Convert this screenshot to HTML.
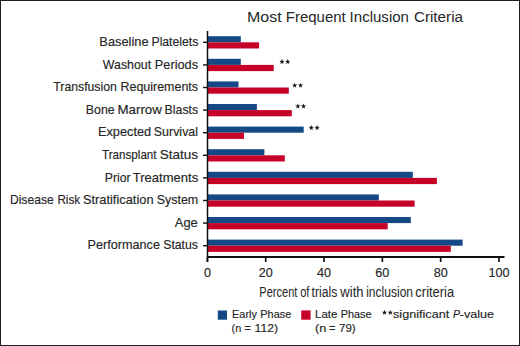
<!DOCTYPE html>
<html><head><meta charset="utf-8"><style>
html,body{margin:0;padding:0;background:#fff;}
body{width:520px;height:346px;overflow:hidden;}
svg{display:block;}
text{font-family:"Liberation Sans",sans-serif;fill:#262626;stroke:#262626;stroke-width:0.15px;}
.lab{font-size:12.2px;}
.tick{font-size:12.6px;}
.title{font-size:14px;stroke-width:0;}
.leg{font-size:11px;}
</style></head><body>
<svg width="520" height="346" viewBox="0 0 520 346">
<rect x="0.5" y="0.5" width="519" height="345" fill="#fff" stroke="#1e1e1e" stroke-width="1"/>
<text x="247.09" y="22.40" textLength="34.52" lengthAdjust="spacingAndGlyphs" class="title">Most</text>
<text x="285.77" y="22.40" textLength="60.04" lengthAdjust="spacingAndGlyphs" class="title">Frequent</text>
<text x="349.61" y="22.40" textLength="59.36" lengthAdjust="spacingAndGlyphs" class="title">Inclusion</text>
<text x="413.93" y="22.40" textLength="49.07" lengthAdjust="spacingAndGlyphs" class="title">Criteria</text>
<rect x="207.5" y="36.20" width="33.30" height="6.1" fill="#144986"/>
<rect x="207.5" y="42.30" width="51.60" height="6.2" fill="#c70228"/>
<text x="99.35" y="46.00" textLength="49.22" lengthAdjust="spacingAndGlyphs" class="lab">Baseline</text>
<text x="151.50" y="46.00" textLength="46.74" lengthAdjust="spacingAndGlyphs" class="lab">Platelets</text>
<line x1="203" x2="207" y1="42.30" y2="42.30" stroke="#111" stroke-width="1.4"/>
<rect x="207.5" y="58.80" width="33.30" height="6.1" fill="#144986"/>
<rect x="207.5" y="64.90" width="66.20" height="6.2" fill="#c70228"/>
<text x="102.85" y="68.60" textLength="48.24" lengthAdjust="spacingAndGlyphs" class="lab">Washout</text>
<text x="154.85" y="68.60" textLength="43.21" lengthAdjust="spacingAndGlyphs" class="lab">Periods</text>
<line x1="203" x2="207" y1="64.90" y2="64.90" stroke="#111" stroke-width="1.4"/>
<rect x="207.5" y="81.40" width="31.00" height="6.1" fill="#144986"/>
<rect x="207.5" y="87.50" width="81.30" height="6.2" fill="#c70228"/>
<text x="53.33" y="91.20" textLength="63.46" lengthAdjust="spacingAndGlyphs" class="lab">Transfusion</text>
<text x="120.48" y="91.20" textLength="77.57" lengthAdjust="spacingAndGlyphs" class="lab">Requirements</text>
<line x1="203" x2="207" y1="87.50" y2="87.50" stroke="#111" stroke-width="1.4"/>
<rect x="207.5" y="104.00" width="49.40" height="6.1" fill="#144986"/>
<rect x="207.5" y="110.10" width="84.30" height="6.2" fill="#c70228"/>
<text x="85.89" y="113.80" textLength="28.86" lengthAdjust="spacingAndGlyphs" class="lab">Bone</text>
<text x="117.51" y="113.80" textLength="44.36" lengthAdjust="spacingAndGlyphs" class="lab">Marrow</text>
<text x="164.59" y="113.80" textLength="33.56" lengthAdjust="spacingAndGlyphs" class="lab">Blasts</text>
<line x1="203" x2="207" y1="110.10" y2="110.10" stroke="#111" stroke-width="1.4"/>
<rect x="207.5" y="126.60" width="96.20" height="6.1" fill="#144986"/>
<rect x="207.5" y="132.70" width="36.50" height="6.2" fill="#c70228"/>
<text x="97.95" y="136.40" textLength="53.27" lengthAdjust="spacingAndGlyphs" class="lab">Expected</text>
<text x="153.84" y="136.40" textLength="44.20" lengthAdjust="spacingAndGlyphs" class="lab">Survival</text>
<line x1="203" x2="207" y1="132.70" y2="132.70" stroke="#111" stroke-width="1.4"/>
<rect x="207.5" y="149.20" width="56.90" height="6.1" fill="#144986"/>
<rect x="207.5" y="155.30" width="77.30" height="6.2" fill="#c70228"/>
<text x="102.04" y="159.00" textLength="54.54" lengthAdjust="spacingAndGlyphs" class="lab">Transplant</text>
<text x="159.79" y="159.00" textLength="38.30" lengthAdjust="spacingAndGlyphs" class="lab">Status</text>
<line x1="203" x2="207" y1="155.30" y2="155.30" stroke="#111" stroke-width="1.4"/>
<rect x="207.5" y="171.80" width="205.30" height="6.1" fill="#144986"/>
<rect x="207.5" y="177.90" width="229.40" height="6.2" fill="#c70228"/>
<text x="104.80" y="181.60" textLength="25.70" lengthAdjust="spacingAndGlyphs" class="lab">Prior</text>
<text x="132.81" y="181.60" textLength="65.36" lengthAdjust="spacingAndGlyphs" class="lab">Treatments</text>
<line x1="203" x2="207" y1="177.90" y2="177.90" stroke="#111" stroke-width="1.4"/>
<rect x="207.5" y="194.40" width="171.30" height="6.1" fill="#144986"/>
<rect x="207.5" y="200.50" width="207.10" height="6.2" fill="#c70228"/>
<text x="9.90" y="204.20" textLength="43.83" lengthAdjust="spacingAndGlyphs" class="lab">Disease</text>
<text x="57.44" y="204.20" textLength="22.64" lengthAdjust="spacingAndGlyphs" class="lab">Risk</text>
<text x="82.92" y="204.20" textLength="70.62" lengthAdjust="spacingAndGlyphs" class="lab">Stratification</text>
<text x="156.73" y="204.20" textLength="41.49" lengthAdjust="spacingAndGlyphs" class="lab">System</text>
<line x1="203" x2="207" y1="200.50" y2="200.50" stroke="#111" stroke-width="1.4"/>
<rect x="207.5" y="217.00" width="203.30" height="6.1" fill="#144986"/>
<rect x="207.5" y="223.10" width="180.20" height="6.2" fill="#c70228"/>
<text x="174.87" y="226.80" textLength="22.90" lengthAdjust="spacingAndGlyphs" class="lab">Age</text>
<line x1="203" x2="207" y1="223.10" y2="223.10" stroke="#111" stroke-width="1.4"/>
<rect x="207.5" y="239.60" width="255.10" height="6.1" fill="#144986"/>
<rect x="207.5" y="245.70" width="243.30" height="6.2" fill="#c70228"/>
<text x="87.56" y="249.40" textLength="72.40" lengthAdjust="spacingAndGlyphs" class="lab">Performance</text>
<text x="163.24" y="249.40" textLength="34.70" lengthAdjust="spacingAndGlyphs" class="lab">Status</text>
<line x1="203" x2="207" y1="245.70" y2="245.70" stroke="#111" stroke-width="1.4"/>
<polygon points="282.00,58.97 282.68,60.84 284.66,60.90 283.09,62.12 283.65,64.03 282.00,62.92 280.35,64.03 280.91,62.12 279.34,60.90 281.32,60.84" fill="#1a1a1a"/>
<polygon points="287.70,58.97 288.38,60.84 290.36,60.90 288.79,62.12 289.35,64.03 287.70,62.92 286.05,64.03 286.61,62.12 285.04,60.90 287.02,60.84" fill="#1a1a1a"/>
<polygon points="294.70,82.67 295.38,84.54 297.36,84.60 295.79,85.82 296.35,87.73 294.70,86.62 293.05,87.73 293.61,85.82 292.04,84.60 294.02,84.54" fill="#1a1a1a"/>
<polygon points="300.50,82.67 301.18,84.54 303.16,84.60 301.59,85.82 302.15,87.73 300.50,86.62 298.85,87.73 299.41,85.82 297.84,84.60 299.82,84.54" fill="#1a1a1a"/>
<polygon points="297.90,103.47 298.58,105.34 300.56,105.40 298.99,106.62 299.55,108.53 297.90,107.42 296.25,108.53 296.81,106.62 295.24,105.40 297.22,105.34" fill="#1a1a1a"/>
<polygon points="303.50,103.47 304.18,105.34 306.16,105.40 304.59,106.62 305.15,108.53 303.50,107.42 301.85,108.53 302.41,106.62 300.84,105.40 302.82,105.34" fill="#1a1a1a"/>
<polygon points="311.30,124.97 311.98,126.84 313.96,126.90 312.39,128.12 312.95,130.03 311.30,128.92 309.65,130.03 310.21,128.12 308.64,126.90 310.62,126.84" fill="#1a1a1a"/>
<polygon points="317.10,124.97 317.78,126.84 319.76,126.90 318.19,128.12 318.75,130.03 317.10,128.92 315.45,130.03 316.01,128.12 314.44,126.90 316.42,126.84" fill="#1a1a1a"/>
<polygon points="384.50,309.77 385.18,311.64 387.16,311.70 385.59,312.92 386.15,314.83 384.50,313.72 382.85,314.83 383.41,312.92 381.84,311.70 383.82,311.64" fill="#1a1a1a"/>
<polygon points="390.30,309.77 390.98,311.64 392.96,311.70 391.39,312.92 391.95,314.83 390.30,313.72 388.65,314.83 389.21,312.92 387.64,311.70 389.62,311.64" fill="#1a1a1a"/>
<line x1="207.5" x2="207.5" y1="31" y2="262" stroke="#111" stroke-width="1.5"/>
<line x1="207" x2="504.5" y1="257" y2="257" stroke="#111" stroke-width="2"/>
<line x1="207.40" x2="207.40" y1="257" y2="262" stroke="#111" stroke-width="1.7"/>
<text x="207.40" y="277" text-anchor="middle" class="tick">0</text>
<line x1="265.72" x2="265.72" y1="257" y2="262" stroke="#111" stroke-width="1.7"/>
<text x="265.72" y="277" text-anchor="middle" class="tick">20</text>
<line x1="324.04" x2="324.04" y1="257" y2="262" stroke="#111" stroke-width="1.7"/>
<text x="324.04" y="277" text-anchor="middle" class="tick">40</text>
<line x1="382.36" x2="382.36" y1="257" y2="262" stroke="#111" stroke-width="1.7"/>
<text x="382.36" y="277" text-anchor="middle" class="tick">60</text>
<line x1="440.68" x2="440.68" y1="257" y2="262" stroke="#111" stroke-width="1.7"/>
<text x="440.68" y="277" text-anchor="middle" class="tick">80</text>
<line x1="499.00" x2="499.00" y1="257" y2="262" stroke="#111" stroke-width="1.7"/>
<text x="499.00" y="277" text-anchor="middle" class="tick">100</text>
<text x="259.29" y="297.20" textLength="38.09" lengthAdjust="spacingAndGlyphs" class="title">Percent</text>
<text x="300.13" y="297.20" textLength="9.35" lengthAdjust="spacingAndGlyphs" class="title">of</text>
<text x="311.62" y="297.20" textLength="25.62" lengthAdjust="spacingAndGlyphs" class="title">trials</text>
<text x="340.32" y="297.20" textLength="23.23" lengthAdjust="spacingAndGlyphs" class="title">with</text>
<text x="366.19" y="297.20" textLength="46.89" lengthAdjust="spacingAndGlyphs" class="title">inclusion</text>
<text x="415.35" y="297.20" textLength="38.85" lengthAdjust="spacingAndGlyphs" class="title">criteria</text>
<rect x="217.8" y="310.5" width="9.2" height="9.2" fill="#144986"/>
<rect x="301.2" y="310.4" width="9.4" height="9.3" fill="#c70228"/>
<text x="232.11" y="318.20" textLength="24.81" lengthAdjust="spacingAndGlyphs" class="leg">Early</text>
<text x="260.30" y="318.20" textLength="30.98" lengthAdjust="spacingAndGlyphs" class="leg">Phase</text>
<text x="315.06" y="318.20" textLength="22.35" lengthAdjust="spacingAndGlyphs" class="leg">Late</text>
<text x="340.71" y="318.20" textLength="30.88" lengthAdjust="spacingAndGlyphs" class="leg">Phase</text>
<text x="231.52" y="332.10" textLength="9.68" lengthAdjust="spacingAndGlyphs" class="leg">(n</text>
<text x="244.47" y="332.10" textLength="6.37" lengthAdjust="spacingAndGlyphs" class="leg">=</text>
<text x="254.61" y="332.10" textLength="23.31" lengthAdjust="spacingAndGlyphs" class="leg">112)</text>
<text x="315.01" y="332.10" textLength="11.32" lengthAdjust="spacingAndGlyphs" class="leg">(n</text>
<text x="328.96" y="332.10" textLength="6.49" lengthAdjust="spacingAndGlyphs" class="leg">=</text>
<text x="339.01" y="332.10" textLength="16.71" lengthAdjust="spacingAndGlyphs" class="leg">79)</text>
<text x="393.05" y="318.40" textLength="56.14" lengthAdjust="spacingAndGlyphs" class="leg">significant</text>
<text x="459.84" y="318.40" textLength="34.22" lengthAdjust="spacingAndGlyphs" class="leg">-value</text>
<text x="453.08" y="318.40" textLength="6.99" lengthAdjust="spacingAndGlyphs" class="leg" font-style="italic">P</text>
</svg>
</body></html>
